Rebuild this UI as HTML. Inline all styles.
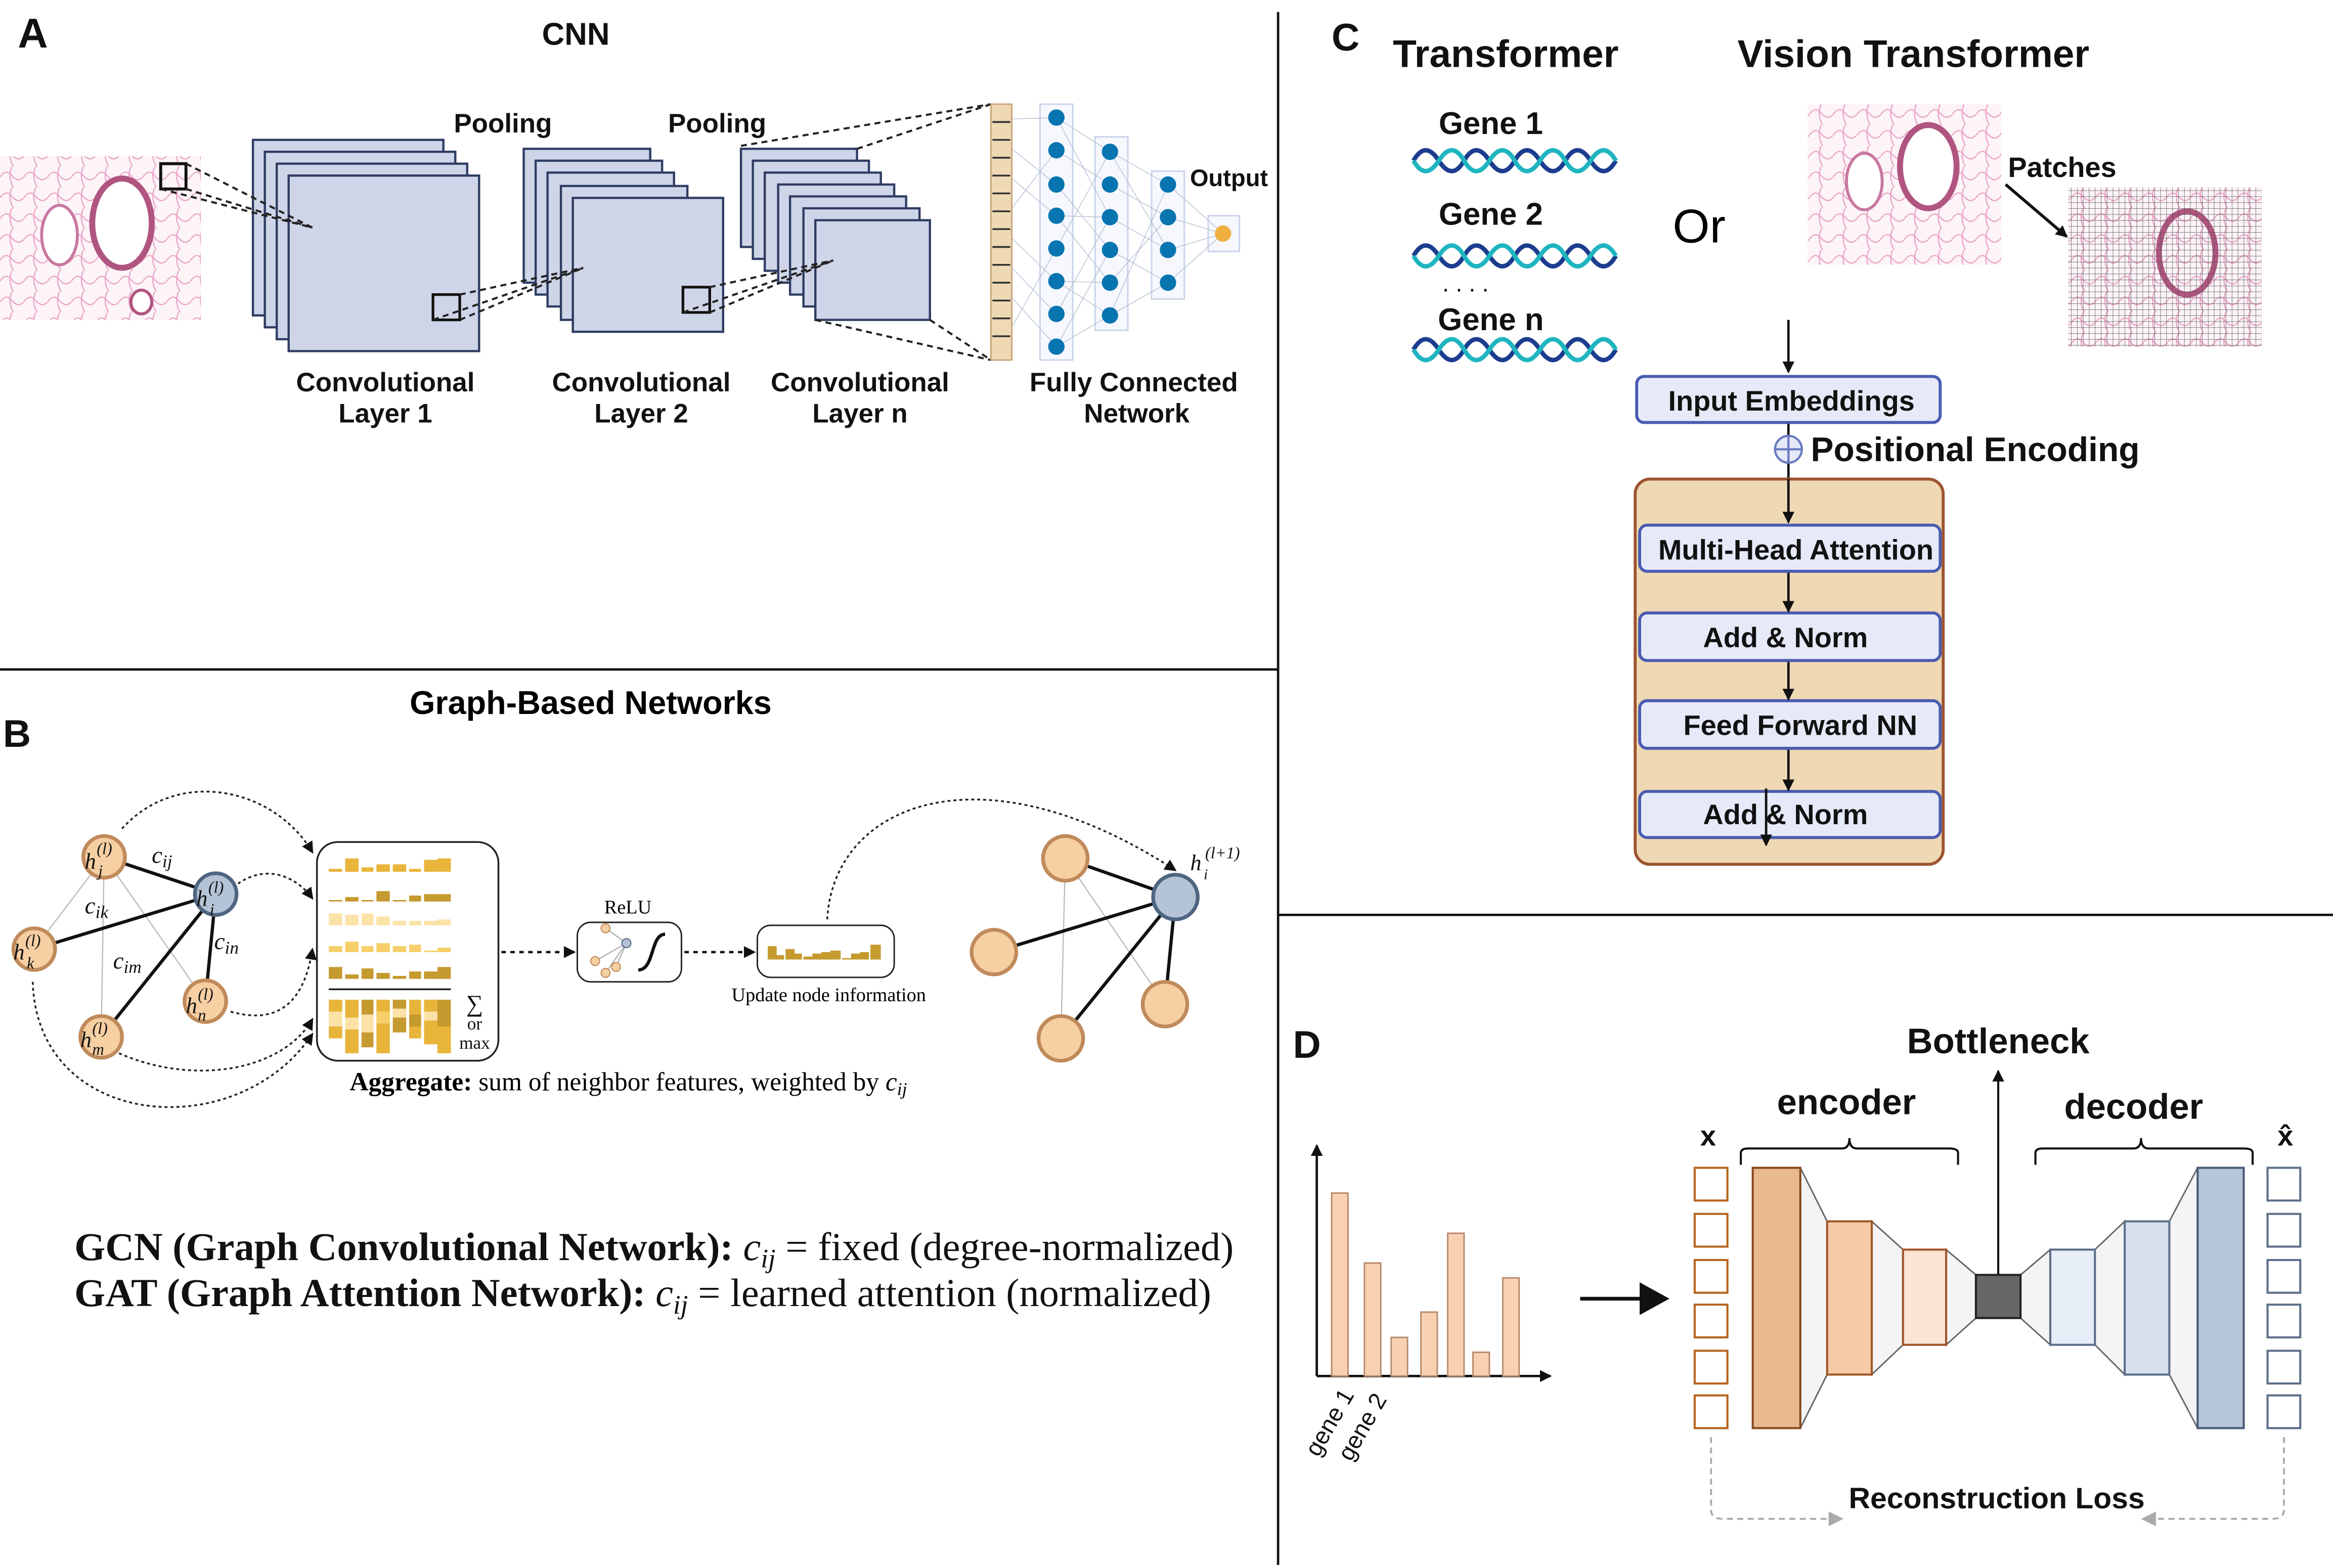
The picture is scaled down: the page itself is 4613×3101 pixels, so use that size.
<!DOCTYPE html>
<html><head><meta charset="utf-8"><style>html,body{margin:0;padding:0;background:#fff}svg{display:block}</style></head>
<body>
<svg xmlns="http://www.w3.org/2000/svg" width="4613" height="3101" viewBox="0 0 1568 1054">
<defs>
<marker id="ah" markerWidth="8" markerHeight="8" refX="7" refY="4" orient="auto" markerUnits="userSpaceOnUse"><path d="M0,0 L8,4 L0,8 z" fill="#111"/></marker>
<marker id="ahg" markerWidth="10" markerHeight="10" refX="9" refY="5" orient="auto" markerUnits="userSpaceOnUse"><path d="M0,0 L10,5 L0,10 z" fill="#aaa"/></marker>
<pattern id="tis" width="16" height="14" patternUnits="userSpaceOnUse"><path d="M0,7 Q4,1 8,6 T16,7 M8,0 Q5,7 9,14" stroke="#e9a3c6" stroke-width="0.8" fill="none"/></pattern>
<pattern id="grid" width="4" height="4" patternUnits="userSpaceOnUse"><path d="M0,0 H4 M0,0 V4" stroke="#555" stroke-width="0.5"/></pattern>
</defs>
<rect width="1568" height="1054" fill="#fff"/>
<g stroke="#111" stroke-width="1.6">
<line x1="859" y1="8" x2="859" y2="1052"/><line x1="0" y1="450" x2="859" y2="450"/><line x1="859" y1="615" x2="1568" y2="615"/>
</g>
<g font-family="Liberation Sans, sans-serif" font-weight="bold" fill="#111">
<text x="12" y="32" font-size="28">A</text><text x="2" y="502" font-size="26">B</text>
<text x="895" y="34" font-size="26">C</text><text x="869" y="711" font-size="26">D</text>
</g>

<!-- Panel A -->
<g font-family="Liberation Sans, sans-serif" font-weight="bold" fill="#111" text-anchor="middle">
<text x="387" y="30" font-size="21">CNN</text>
<text x="338" y="89" font-size="18">Pooling</text><text x="482" y="89" font-size="18">Pooling</text>
<text x="826" y="125" font-size="16">Output</text>
<text x="259" y="263" font-size="18">Convolutional</text><text x="259" y="284" font-size="18">Layer 1</text>
<text x="431" y="263" font-size="18">Convolutional</text><text x="431" y="284" font-size="18">Layer 2</text>
<text x="578" y="263" font-size="18">Convolutional</text><text x="578" y="284" font-size="18">Layer n</text>
<text x="762" y="263" font-size="18">Fully Connected</text><text x="764" y="284" font-size="18">Network</text>
</g>
<rect x="0" y="105" width="135" height="110" fill="#fdf4f8"/>
<rect x="0" y="105" width="135" height="110" fill="url(#tis)"/>
<ellipse cx="82" cy="150" rx="20" ry="30" fill="#fff" stroke="#b0557f" stroke-width="4"/>
<ellipse cx="40" cy="158" rx="12" ry="20" fill="#fff" stroke="#c878a0" stroke-width="2"/>
<ellipse cx="95" cy="203" rx="7" ry="8" fill="#fff" stroke="#b0557f" stroke-width="2"/>
<rect x="108" y="110" width="17" height="17" fill="none" stroke="#111" stroke-width="2"/>
<g fill="#cfd5e8" stroke="#2f3d63" stroke-width="1.5">
<rect x="170" y="94" width="128" height="118"/><rect x="178" y="102" width="128" height="118"/><rect x="186" y="110" width="128" height="118"/><rect x="194" y="118" width="128" height="118"/>
<rect x="352" y="100" width="85" height="90"/><rect x="360" y="108" width="85" height="90"/><rect x="368" y="116" width="85" height="90"/><rect x="377" y="125" width="85" height="90"/><rect x="385" y="133" width="101" height="90"/>
<rect x="498" y="100" width="78" height="66"/><rect x="506" y="108" width="78" height="66"/><rect x="514" y="116" width="78" height="66"/><rect x="523" y="124" width="78" height="66"/><rect x="531" y="132" width="78" height="66"/><rect x="540" y="140" width="78" height="66"/><rect x="548" y="148" width="77" height="67"/>
</g>
<rect x="291" y="198" width="18" height="17" fill="none" stroke="#111" stroke-width="1.8"/>
<rect x="459" y="193" width="18" height="17" fill="none" stroke="#111" stroke-width="1.8"/>
<g stroke="#222" stroke-width="1.4" stroke-dasharray="4,3" fill="none">
<path d="M125,110 L210,153 M125,127 L210,153 M108,127 L210,153"/>
<path d="M309,198 L392,180 M309,215 L392,180 M291,215 L392,180"/>
<path d="M477,193 L560,175 M477,210 L560,175 M459,210 L560,175"/>
<path d="M498,98 L666,70 M576,100 L666,70 M548,215 L666,242 M625,215 L666,242"/>
</g>
<rect x="666" y="70" width="14" height="172" fill="#efd9b4" stroke="#c9a67a"/>
<g stroke="#333" stroke-width="1.2"><path d="M667,82h12M667,94h12M667,106h12M667,118h12M667,130h12M667,142h12M667,154h12M667,166h12M667,178h12M667,190h12M667,202h12M667,214h12M667,226h12"/></g>
<g fill="#f6f8fd" stroke="#c9d3ea"><rect x="699" y="70" width="22" height="172"/><rect x="736" y="92" width="22" height="130"/><rect x="774" y="115" width="22" height="86"/><rect x="812" y="145" width="21" height="24"/></g>
<g stroke="#aab4cc" stroke-width="0.4">
<path d="M680,80L710,79M680,120L710,145M680,160L710,189M680,200L710,233M680,100L710,124M680,140L710,101M680,180L710,211M680,220L710,167"/>
<path d="M710,79L746,102M710,79L746,146M710,101L746,124M710,124L746,168M710,145L746,190M710,167L746,102M710,189L746,212M710,211L746,146M710,233L746,212M710,233L746,168M710,145L746,146M710,189L746,190"/>
<path d="M746,102L785,124M746,124L785,146M746,146L785,168M746,168L785,190M746,190L785,146M746,212L785,190M746,102L785,168M746,212L785,124"/>
<path d="M785,124L822,157M785,146L822,157M785,168L822,157M785,190L822,157"/>
</g>
<g fill="#0874b0">
<circle cx="710" cy="79" r="5.5"/><circle cx="710" cy="101" r="5.5"/><circle cx="710" cy="124" r="5.5"/><circle cx="710" cy="145" r="5.5"/><circle cx="710" cy="167" r="5.5"/><circle cx="710" cy="189" r="5.5"/><circle cx="710" cy="211" r="5.5"/><circle cx="710" cy="233" r="5.5"/>
<circle cx="746" cy="102" r="5.5"/><circle cx="746" cy="124" r="5.5"/><circle cx="746" cy="146" r="5.5"/><circle cx="746" cy="168" r="5.5"/><circle cx="746" cy="190" r="5.5"/><circle cx="746" cy="212" r="5.5"/>
<circle cx="785" cy="124" r="5.5"/><circle cx="785" cy="146" r="5.5"/><circle cx="785" cy="168" r="5.5"/><circle cx="785" cy="190" r="5.5"/>
</g>
<circle cx="822" cy="157" r="5.5" fill="#efb040"/>

<!-- Panel B -->
<text x="397" y="480" font-family="Liberation Sans, sans-serif" font-weight="bold" font-size="22" text-anchor="middle">Graph-Based Networks</text>
<g stroke="#bbb" stroke-width="0.8"><line x1="70" y1="576" x2="23" y2="638"/><line x1="70" y1="576" x2="68" y2="697"/><line x1="70" y1="576" x2="138" y2="673"/></g>
<g stroke="#111" stroke-width="2.2"><line x1="70" y1="576" x2="145" y2="601"/><line x1="23" y1="638" x2="145" y2="601"/><line x1="68" y1="697" x2="145" y2="601"/><line x1="138" y1="673" x2="145" y2="601"/></g>
<g fill="none" stroke="#222" stroke-width="1.2" stroke-dasharray="2,2" marker-end="url(#ah)">
<path d="M82,557 C120,515 185,530 210,573"/>
<path d="M160,594 C180,580 200,590 210,604"/>
<path d="M155,680 C190,690 205,670 210,638"/>
<path d="M80,708 C130,730 190,720 210,685"/>
<path d="M22,660 C25,760 160,770 210,695"/>
<path d="M556,618 C560,540 660,500 790,585"/>
</g>
<g stroke="#c08a5a" stroke-width="2.5" fill="#f6cfa3"><circle cx="70" cy="576" r="14"/><circle cx="23" cy="638" r="14"/><circle cx="138" cy="673" r="14"/><circle cx="68" cy="697" r="14"/></g>
<circle cx="145" cy="601" r="14" fill="#b4c3d6" stroke="#4f6581" stroke-width="2.5"/>
<g font-family="Liberation Serif, serif" font-style="italic" font-size="15" fill="#111">
<text x="57" y="584">h</text><text x="65" y="574" font-size="11">(l)</text><text x="66" y="589" font-size="11">j</text>
<text x="132" y="609">h</text><text x="140" y="600" font-size="11">(l)</text><text x="141" y="615" font-size="11">i</text>
<text x="9" y="645">h</text><text x="17" y="636" font-size="11">(l)</text><text x="18" y="651" font-size="11">k</text>
<text x="125" y="681">h</text><text x="133" y="672" font-size="11">(l)</text><text x="133" y="686" font-size="11">n</text>
<text x="54" y="704">h</text><text x="62" y="695" font-size="11">(l)</text><text x="62" y="709" font-size="11">m</text>
<text x="102" y="580" font-size="16">c<tspan font-size="12" dy="3">ij</tspan></text>
<text x="57" y="614" font-size="16">c<tspan font-size="12" dy="3">ik</tspan></text>
<text x="76" y="651" font-size="16">c<tspan font-size="12" dy="3">im</tspan></text>
<text x="144" y="638" font-size="16">c<tspan font-size="12" dy="3">in</tspan></text>
<text x="800" y="585">h</text><text x="810" y="577" font-size="11">(l+1)</text><text x="809" y="591" font-size="10">i</text>
</g>
<rect x="213" y="566" width="122" height="147" rx="14" fill="#fff" stroke="#222" stroke-width="1.2"/>
<g fill="#e8b53a">
<path d="M221,586h9v-2h-9zM232,586h9v-9h-9zM243,586h8v-3h-8zM253,586h9v-5h-9zM264,586h9v-5h-9zM275,586h8v-2h-8zM285,586h9v-8h-9zM294,586h9v-9h-9z"/>
</g>
<g fill="#c59a2e"><path d="M221,606h9v-1h-9zM232,606h9v-3h-9zM243,606h8v-1h-8zM253,606h9v-7h-9zM264,606h9v-1h-9zM275,606h8v-4h-8zM285,606h9v-5h-9zM294,606h9v-5h-9z"/></g>
<g fill="#fbe3a8"><path d="M221,622h9v-8h-9zM232,622h9v-7h-9zM243,622h8v-8h-8zM253,622h9v-6h-9zM264,622h9v-3h-9zM275,622h8v-3h-8zM285,622h9v-3h-9zM294,622h9v-4h-9z"/></g>
<g fill="#f6cf6a"><path d="M221,640h9v-4h-9zM232,640h9v-7h-9zM243,640h8v-4h-8zM253,640h9v-6h-9zM264,640h9v-4h-9zM275,640h8v-5h-8zM285,640h9v-1h-9zM294,640h9v-3h-9z"/></g>
<g fill="#c59a2e"><path d="M221,658h9v-8h-9zM232,658h9v-3h-9zM243,658h8v-7h-8zM253,658h9v-4h-9zM264,658h9v-2h-9zM275,658h8v-5h-8zM285,658h9v-5h-9zM294,658h9v-8h-9z"/></g>
<line x1="221" y1="665" x2="303" y2="665" stroke="#222" stroke-width="1.2"/>
<g>
<rect x="221" y="672" width="9" height="26" fill="#e8b53a"/><rect x="221" y="680" width="9" height="10" fill="#fbe3a8"/>
<rect x="232" y="672" width="9" height="36" fill="#e8b53a"/><rect x="232" y="684" width="9" height="8" fill="#fbe3a8"/>
<rect x="243" y="672" width="8" height="32" fill="#c59a2e"/><rect x="243" y="682" width="8" height="12" fill="#fbe3a8"/>
<rect x="253" y="672" width="9" height="36" fill="#e8b53a"/><rect x="253" y="680" width="9" height="8" fill="#f6cf6a"/>
<rect x="264" y="672" width="9" height="22" fill="#c59a2e"/><rect x="264" y="678" width="9" height="6" fill="#fbe3a8"/>
<rect x="275" y="672" width="8" height="26" fill="#e8b53a"/><rect x="275" y="682" width="8" height="8" fill="#c59a2e"/>
<rect x="285" y="672" width="9" height="30" fill="#e8b53a"/><rect x="285" y="680" width="9" height="6" fill="#fbe3a8"/>
<rect x="294" y="672" width="9" height="36" fill="#c59a2e"/><rect x="294" y="690" width="9" height="18" fill="#e8b53a"/>
</g>
<g font-family="Liberation Serif, serif" font-size="12" fill="#111" text-anchor="middle"><text x="319" y="680" font-size="16">∑</text><text x="319" y="692">or</text><text x="319" y="705">max</text></g>
<g stroke="#111" stroke-width="1.6" stroke-dasharray="3,3" fill="none" marker-end="url(#ah)"><line x1="337" y1="640" x2="386" y2="640"/><line x1="460" y1="640" x2="507" y2="640"/></g>
<rect x="388" y="620" width="70" height="40" rx="9" fill="#fff" stroke="#222"/>
<g stroke="#999" stroke-width="0.6"><line x1="407" y1="624" x2="421" y2="634"/><line x1="400" y1="646" x2="421" y2="634"/><line x1="407" y1="654" x2="421" y2="634"/><line x1="414" y1="650" x2="421" y2="634"/></g>
<g fill="#f6cfa3" stroke="#c08a5a" stroke-width="0.7"><circle cx="407" cy="624" r="3"/><circle cx="400" cy="646" r="3"/><circle cx="407" cy="654" r="3"/><circle cx="414" cy="650" r="3"/></g>
<circle cx="421" cy="634" r="3" fill="#b4c3d6" stroke="#4f6581" stroke-width="0.7"/>
<path d="M429,652 C440,652 437,628 447,628" stroke="#111" stroke-width="2.2" fill="none"/>
<text x="422" y="614" font-family="Liberation Serif, serif" font-size="13" text-anchor="middle">ReLU</text>
<rect x="509" y="622" width="92" height="35" rx="9" fill="#fff" stroke="#222"/>
<path d="M516,645h6v-9h-6zM522,645h5v-3h-5zM528,645h6v-7h-6zM534,645h5v-4h-5zM540,645h6v-2h-6zM546,645h6v-4h-6zM552,645h6v-5h-6zM558,645h7v-6h-7z" fill="#c59a2e"/>
<path d="M566,645h6v-1h-6zM572,645h6v-4h-6zM578,645h6v-5h-6zM585,645h7v-10h-7z" fill="#c59a2e"/>
<text x="557" y="673" font-family="Liberation Serif, serif" font-size="13" text-anchor="middle">Update node information</text>
<g stroke="#bbb" stroke-width="0.8"><line x1="716" y1="577" x2="713" y2="698"/><line x1="716" y1="577" x2="783" y2="675"/></g>
<g stroke="#111" stroke-width="2.2"><line x1="716" y1="577" x2="790" y2="603"/><line x1="668" y1="640" x2="790" y2="603"/><line x1="713" y1="698" x2="790" y2="603"/><line x1="783" y1="675" x2="790" y2="603"/></g>
<g fill="#f6cfa3" stroke="#c08a5a" stroke-width="2.5"><circle cx="716" cy="577" r="15"/><circle cx="668" cy="640" r="15"/><circle cx="783" cy="675" r="15"/><circle cx="713" cy="698" r="15"/></g>
<circle cx="790" cy="603" r="15" fill="#b4c3d6" stroke="#4f6581" stroke-width="2.5"/>
<text x="235" y="733" font-family="Liberation Serif, serif" font-size="17.5"><tspan font-weight="bold">Aggregate:</tspan> sum of neighbor features, weighted by <tspan font-style="italic">c<tspan font-size="12" dy="3">ij</tspan></tspan></text>
<g font-family="Liberation Serif, serif" font-size="26.7" fill="#111">
<text x="50" y="847"><tspan font-weight="bold">GCN (Graph Convolutional Network):</tspan> <tspan font-style="italic">c<tspan font-size="18" dy="5">ij</tspan></tspan><tspan dy="-5"> = fixed (degree-normalized)</tspan></text>
<text x="50" y="878"><tspan font-weight="bold">GAT (Graph Attention Network):</tspan> <tspan font-style="italic">c<tspan font-size="18" dy="5">ij</tspan></tspan><tspan dy="-5"> = learned attention (normalized)</tspan></text>
</g>

<!-- Panel C -->
<g font-family="Liberation Sans, sans-serif" font-weight="bold" fill="#111">
<text x="1012" y="45" font-size="26" text-anchor="middle">Transformer</text>
<text x="1286" y="45" font-size="26" text-anchor="middle">Vision Transformer</text>
<text x="1002" y="90" font-size="21" text-anchor="middle">Gene 1</text>
<text x="1002" y="151" font-size="21" text-anchor="middle">Gene 2</text>
<text x="1002" y="222" font-size="21" text-anchor="middle">Gene n</text>
<text x="1386" y="119" font-size="19" text-anchor="middle">Patches</text>
<text x="1217" y="310" font-size="23">Positional Encoding</text>
</g>
<text x="1142" y="163" font-family="Liberation Sans, sans-serif" font-size="32" text-anchor="middle">Or</text>
<text x="985" y="196" font-family="Liberation Sans, sans-serif" font-size="16" text-anchor="middle">. . . .</text>
<g fill="none" stroke-width="3">
<path d="M950,108 q8,-14 17,0 t17,0 t17,0 t17,0 t17,0 t17,0 t17,0 t17,0" stroke="#1c3d8f"/>
<path d="M950,108 q8,14 17,0 t17,0 t17,0 t17,0 t17,0 t17,0 t17,0 t17,0" stroke="#1fb5c0"/>
<path d="M950,172 q8,-14 17,0 t17,0 t17,0 t17,0 t17,0 t17,0 t17,0 t17,0" stroke="#1c3d8f"/>
<path d="M950,172 q8,14 17,0 t17,0 t17,0 t17,0 t17,0 t17,0 t17,0 t17,0" stroke="#1fb5c0"/>
<path d="M950,235 q8,-14 17,0 t17,0 t17,0 t17,0 t17,0 t17,0 t17,0 t17,0" stroke="#1c3d8f"/>
<path d="M950,235 q8,14 17,0 t17,0 t17,0 t17,0 t17,0 t17,0 t17,0 t17,0" stroke="#1fb5c0"/>
</g>
<rect x="1215" y="70" width="130" height="108" fill="#fdf4f8"/><rect x="1215" y="70" width="130" height="108" fill="url(#tis)"/>
<ellipse cx="1296" cy="112" rx="19" ry="28" fill="#fff" stroke="#b0557f" stroke-width="4"/>
<ellipse cx="1253" cy="122" rx="12" ry="19" fill="#fff" stroke="#c878a0" stroke-width="2"/>
<rect x="1390" y="126" width="130" height="107" fill="#fdf4f8"/><rect x="1390" y="126" width="130" height="107" fill="url(#tis)"/>
<ellipse cx="1470" cy="170" rx="19" ry="28" fill="none" stroke="#b0557f" stroke-width="4"/>
<rect x="1390" y="126" width="130" height="107" fill="url(#grid)"/>
<line x1="1348" y1="124" x2="1389" y2="159" stroke="#111" stroke-width="2" marker-end="url(#ah)"/>
<g stroke="#111" stroke-width="1.6" marker-end="url(#ah)">
<line x1="1202" y1="215" x2="1202" y2="250"/><line x1="1202" y1="285" x2="1202" y2="351"/>
<line x1="1202" y1="385" x2="1202" y2="411"/><line x1="1202" y1="445" x2="1202" y2="470"/><line x1="1202" y1="504" x2="1202" y2="531"/>
</g>
<rect x="1099" y="322" width="207" height="259" rx="10" fill="#efd9b4" stroke="#9c5530" stroke-width="2"/>
<g fill="#e6eaf8" stroke="#4a5bb0" stroke-width="2">
<rect x="1100" y="253" width="204" height="31" rx="5"/>
<rect x="1102" y="353" width="202" height="31" rx="5"/>
<rect x="1102" y="412" width="202" height="32" rx="5"/>
<rect x="1102" y="471" width="202" height="32" rx="5"/>
<rect x="1102" y="532" width="202" height="31" rx="5"/>
</g>
<g stroke="#111" stroke-width="1.6" marker-end="url(#ah)">
<line x1="1202" y1="322" x2="1202" y2="351"/><line x1="1202" y1="385" x2="1202" y2="411"/><line x1="1202" y1="445" x2="1202" y2="470"/><line x1="1202" y1="504" x2="1202" y2="531"/>
<line x1="1187" y1="530" x2="1187" y2="568"/>
</g>
<circle cx="1202" cy="302" r="9" fill="#e6eaf8" stroke="#6a7bc0" stroke-width="1.5"/>
<path d="M1193,302h18M1202,293v18" stroke="#6a7bc0" stroke-width="1.5"/>
<g font-family="Liberation Sans, sans-serif" font-weight="bold" font-size="19" fill="#111" text-anchor="middle">
<text x="1204" y="276">Input Embeddings</text>
<text x="1207" y="376">Multi-Head Attention</text>
<text x="1200" y="435">Add &amp; Norm</text>
<text x="1210" y="494">Feed Forward NN</text>
<text x="1200" y="554">Add &amp; Norm</text>
</g>

<!-- Panel D -->
<g font-family="Liberation Sans, sans-serif" font-weight="bold" fill="#111" text-anchor="middle">
<text x="1343" y="708" font-size="24">Bottleneck</text>
<text x="1241" y="749" font-size="24">encoder</text>
<text x="1434" y="752" font-size="24">decoder</text>
<text x="1342" y="1014" font-size="20">Reconstruction Loss</text>
<text x="1148" y="770" font-size="19">x</text>
<text x="1536" y="770" font-size="19">x̂</text>
</g>
<g stroke="#111" stroke-width="1.6" marker-end="url(#ah)"><line x1="885" y1="925" x2="885" y2="770"/><line x1="885" y1="925" x2="1042" y2="925"/></g>
<g fill="#f8d1b2" stroke="#b78a6a" stroke-width="1">
<rect x="895" y="802" width="11" height="123"/><rect x="917" y="849" width="11" height="76"/><rect x="935" y="899" width="11" height="26"/><rect x="955" y="882" width="11" height="43"/><rect x="973" y="829" width="11" height="96"/><rect x="990" y="909" width="11" height="16"/><rect x="1010" y="859" width="11" height="66"/>
</g>
<g font-family="Liberation Sans, sans-serif" font-size="16" fill="#111">
<text transform="translate(886,980) rotate(-60)">gene 1</text>
<text transform="translate(908,983) rotate(-60)">gene 2</text>
</g>
<line x1="1062" y1="873" x2="1118" y2="873" stroke="#111" stroke-width="2.5"/>
<path d="M1102,862 L1122,873 L1102,884z" fill="#111"/>
<g fill="none" stroke="#b5651d" stroke-width="1.4">
<rect x="1139" y="785" width="22" height="22"/><rect x="1139" y="816" width="22" height="22"/><rect x="1139" y="847" width="22" height="22"/><rect x="1139" y="877" width="22" height="22"/><rect x="1139" y="908" width="22" height="22"/><rect x="1139" y="938" width="22" height="22"/>
</g>
<g fill="none" stroke="#5c6f8a" stroke-width="1.4">
<rect x="1524" y="785" width="22" height="22"/><rect x="1524" y="816" width="22" height="22"/><rect x="1524" y="847" width="22" height="22"/><rect x="1524" y="877" width="22" height="22"/><rect x="1524" y="908" width="22" height="22"/><rect x="1524" y="938" width="22" height="22"/>
</g>
<g stroke="#666" stroke-width="1" fill="#f4f4f4">
<path d="M1210,785 L1228,821 L1228,924 L1210,960z"/><path d="M1258,821 L1279,840 L1279,904 L1258,924z"/><path d="M1308,840 L1328,857 L1328,886 L1308,904z"/>
<path d="M1358,857 L1378,840 L1378,904 L1358,886z"/><path d="M1408,840 L1428,821 L1428,924 L1408,904z"/><path d="M1458,821 L1477,785 L1477,960 L1458,924z"/>
</g>
<rect x="1178" y="785" width="32" height="175" fill="#e9b990" stroke="#8a4a20" stroke-width="1.4"/>
<rect x="1228" y="821" width="30" height="103" fill="#f5cba7" stroke="#a0562a" stroke-width="1.4"/>
<rect x="1279" y="840" width="29" height="64" fill="#fae4d3" stroke="#a0562a" stroke-width="1.4"/>
<rect x="1328" y="857" width="30" height="29" fill="#666" stroke="#222" stroke-width="1.4"/>
<rect x="1378" y="840" width="30" height="64" fill="#e8eef8" stroke="#5c6f8a" stroke-width="1.4"/>
<rect x="1428" y="821" width="30" height="103" fill="#d8e0ee" stroke="#5c6f8a" stroke-width="1.4"/>
<rect x="1477" y="785" width="31" height="175" fill="#b6c5d8" stroke="#4a5c78" stroke-width="1.4"/>
<line x1="1343" y1="857" x2="1343" y2="720" stroke="#111" stroke-width="1.4" marker-end="url(#ah)"/>
<g fill="none" stroke="#111" stroke-width="1.4">
<path d="M1170,783 V775 Q1170,772 1175,772 H1238 Q1243,772 1243,765 Q1243,772 1248,772 H1310 Q1316,772 1316,775 V783"/>
<path d="M1368,783 V775 Q1368,772 1373,772 H1434 Q1439,772 1439,765 Q1439,772 1444,772 H1508 Q1514,772 1514,775 V783"/>
</g>
<g fill="none" stroke="#aaa" stroke-width="1.3" stroke-dasharray="4,3">
<path d="M1150,966 V1015 Q1150,1021 1158,1021 H1238" marker-end="url(#ahg)"/>
<path d="M1535,966 V1015 Q1535,1021 1527,1021 H1440" marker-end="url(#ahg)"/>
</g>
</svg>
</body></html>
